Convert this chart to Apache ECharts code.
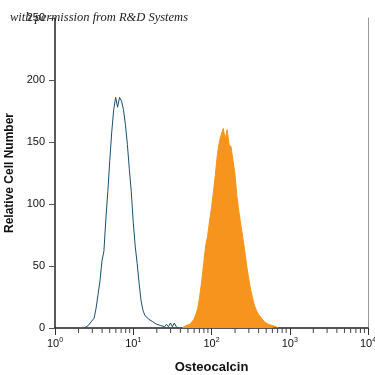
<!DOCTYPE html>
<html><head><meta charset="utf-8">
<script src="https://cdn.jsdelivr.net/npm/echarts@6/dist/echarts.min.js"></script>
<style>html,body{margin:0;padding:0;background:#fff}#c{width:375px;height:375px}</style>
</head><body><div id="c"></div>
<script>
// Histogram bins: width in log10 decades
const binWidth = 0.025;
// Isotype control (blue outline), first bin at log10 = 0.375
const blueLogStart = 0.375;
const blueCounts = [0,1,2,4,3,8,16,27,38,54,62,88,110,135,158,176,186,178,186,183,176,164,148,128,110,85,66,52,36,22,14,10,9,7,6,5,4,3,3,2,2,1,3,1,4,1,4,1,0];
// Osteocalcin stained (orange fill), first bin at log10 = 1.625
const orangeLogStart = 1.625;
const orangeCounts = [0,1,2,2,3,5,7,11,16,26,38,52,66,74,86,97,110,124,140,150,156,161,152,160,148,146,135,124,106,94,83,73,62,50,40,31,24,18,14,11,9,7,5,4,3,2,2,1,1,0];
// Axis ticks
const xDecades = [0,1,2,3,4];
const xMinorMultipliers = [2,3,4,5,6,7,8,9];
const yTicks = [0,50,100,150,200,250];

function toPairs(start, counts){
  return counts.map((c,i)=>[start + i*binWidth, c]);
}
const minorTicks = [];
for (let d=0; d<xDecades.length-1; d++) for (const k of xMinorMultipliers) minorTicks.push([Math.log10(k)+xDecades[d], 0]);

const labelFont = '"Liberation Sans Narrow","Liberation Sans",Arial,sans-serif';
const chart = echarts.init(document.getElementById('c'), null, {renderer:'canvas'});
chart.setOption({
  animation:false,
  grid:{left:55,right:7,top:18,bottom:47,outerBoundsMode:'none',containLabel:false},
  xAxis:{type:'value',min:0,max:4,interval:1,
    name:'Osteocalcin',nameLocation:'middle',nameGap:33,
    nameTextStyle:{fontFamily:labelFont,fontWeight:'bold',fontSize:13,color:'#111'},
    axisLine:{lineStyle:{color:'#222',width:1.5}},
    axisTick:{inside:false,length:7,lineStyle:{color:'#333'}},
    splitLine:{show:false},
    axisLabel:{margin:9,fontFamily:labelFont,fontSize:11,color:'#111',
      formatter:v=>'{b|10}{s|'+v+'}',
      rich:{b:{fontFamily:labelFont,fontSize:11,color:'#111'},s:{fontFamily:labelFont,fontSize:7,color:'#111',padding:[0,0,6,0]}}}
  },
  yAxis:[{type:'value',min:0,max:250,interval:50,
    name:'Relative Cell Number',nameLocation:'middle',nameGap:34,
    nameTextStyle:{fontFamily:labelFont,fontWeight:'bold',fontSize:12,color:'#111'},
    axisLine:{show:true,lineStyle:{color:'#222',width:1.5}},
    axisTick:{show:true,length:6,lineStyle:{color:'#555'}},
    splitLine:{show:false},
    axisLabel:{margin:10,fontFamily:labelFont,fontSize:11,color:'#111'}
  },{type:'value',min:0,max:250,position:'right',
    axisLine:{show:true,lineStyle:{color:'#999',width:1}},axisTick:{show:false},axisLabel:{show:false},splitLine:{show:false}}],
  series:[
    {type:'line',data:toPairs(orangeLogStart,orangeCounts),showSymbol:false,
     lineStyle:{color:'#F7941D',width:1},areaStyle:{color:'#F7941D',opacity:1},z:2},
    {type:'line',data:toPairs(blueLogStart,blueCounts),showSymbol:false,
     lineStyle:{color:'#1B4F6E',width:1},z:3},
    {type:'custom',data:minorTicks,clip:false,silent:true,z:4,
     renderItem:(params,api)=>{const p=api.coord([api.value(0),0]);
       return {type:'line',shape:{x1:p[0],y1:p[1],x2:p[0],y2:p[1]+5},style:{stroke:'#444',lineWidth:1}};}}
  ],
  graphic:[{type:'text',left:10,top:11,z:100,
    style:{text:'with permission from R&D Systems',fontFamily:'"Liberation Serif","DejaVu Serif",serif',fontStyle:'italic',fontSize:12.5,fill:'#222'}}]
});
</script></body></html>
